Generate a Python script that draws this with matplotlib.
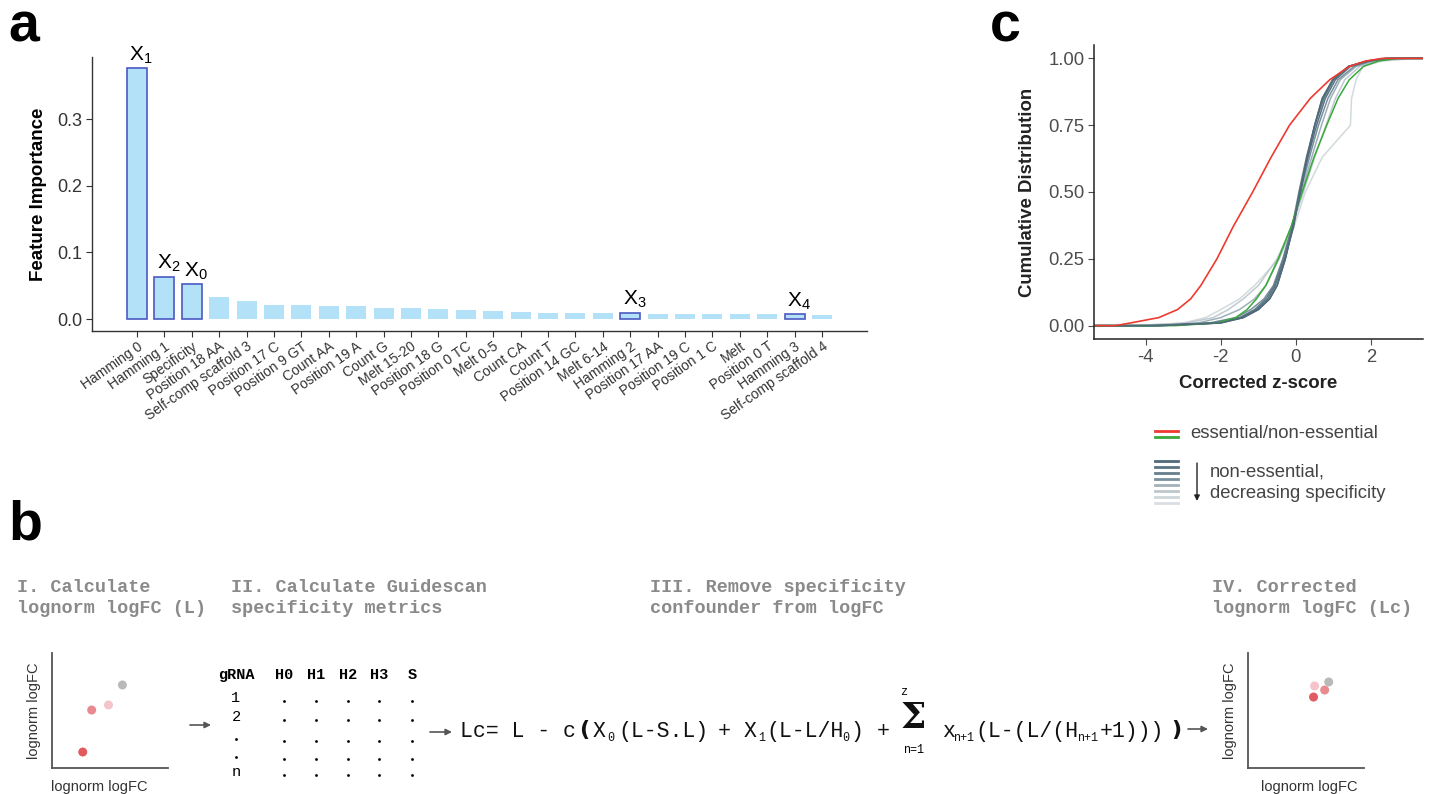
import numpy as np
import matplotlib.pyplot as plt

plt.rcParams['font.family'] = ['Liberation Sans', 'DejaVu Sans']
plt.rcParams['axes.unicode_minus'] = False
plt.rcParams['mathtext.fontset'] = 'custom'
plt.rcParams['mathtext.sf'] = 'Liberation Sans'
plt.rcParams['mathtext.rm'] = 'Liberation Sans'

# ---- panel a data ----
features = ['Hamming 0', 'Hamming 1', 'Specificity', 'Position 18 AA', 'Self-comp scaffold 3',
            'Position 17 C', 'Position 9 GT', 'Count AA', 'Position 19 A', 'Count G',
            'Melt 15-20', 'Position 18 G', 'Position 0 TC', 'Melt 0-5', 'Count CA', 'Count T',
            'Position 14 GC', 'Melt 6-14', 'Hamming 2', 'Position 17 AA', 'Position 19 C',
            'Position 1 C', 'Melt', 'Position 0 T', 'Hamming 3', 'Self-comp scaffold 4']
importance = [0.376, 0.063, 0.052, 0.033, 0.027, 0.021, 0.021, 0.020, 0.020, 0.016,
              0.016, 0.015, 0.013, 0.012, 0.011, 0.0095, 0.009, 0.009, 0.009, 0.008,
              0.0075, 0.0075, 0.0075, 0.007, 0.007, 0.006]
coef_names = {'Hamming 0': '1', 'Hamming 1': '2', 'Specificity': '0',
              'Hamming 2': '3', 'Hamming 3': '4'}

# ---- panel c data: curves given as x at shared cumulative levels ----
levels = [0.0, 0.0, 0.01, 0.03, 0.06, 0.10, 0.15, 0.25, 0.37, 0.50, 0.63, 0.75,
          0.85, 0.92, 0.97, 0.99, 1.0, 1.0]
essential_x = [-5.4, -4.8, -4.4, -3.65, -3.15, -2.8, -2.53, -2.1, -1.67, -1.15, -0.66, -0.17,
               0.38, 0.9, 1.42, 1.85, 2.3, 3.4]
nonessential_x = [-5.4, -3.2, -2.1, -1.6, -1.3, -1.05, -0.8, -0.47, -0.13, 0.17, 0.48, 0.82,
                  1.12, 1.42, 1.8, 2.2, 2.7, 3.4]
specificity_x = [
    [-5.4, -3.6, -2.0, -1.4, -1.0, -0.7, -0.5, -0.28, -0.08, 0.12, 0.3, 0.5, 0.7, 0.98, 1.4, 1.9, 2.4, 3.4],
    [-5.4, -3.7, -2.1, -1.45, -1.05, -0.75, -0.55, -0.3, -0.06, 0.1, 0.32, 0.55, 0.78, 1.05, 1.45, 1.95, 2.4, 3.4],
    [-5.4, -3.8, -2.2, -1.5, -1.1, -0.8, -0.58, -0.33, -0.1, 0.08, 0.28, 0.5, 0.74, 1.0, 1.4, 1.9, 2.5, 3.4],
    [-5.4, -3.9, -2.3, -1.6, -1.2, -0.85, -0.6, -0.35, -0.1, 0.12, 0.36, 0.6, 0.85, 1.12, 1.55, 2.0, 2.6, 3.4],
    [-5.4, -4.0, -2.6, -2.0, -1.5, -1.1, -0.8, -0.45, -0.12, 0.15, 0.42, 0.68, 0.92, 1.18, 1.6, 2.05, 2.8, 3.4],
    [-5.4, -4.2, -2.9, -2.2, -1.8, -1.4, -1.0, -0.5, -0.1, 0.2, 0.5, 0.8, 1.05, 1.3, 1.7, 2.15, 3.0, 3.4],
    [-5.4, -4.4, -3.0, -2.4, -2.0, -1.5, -1.1, -0.45, -0.05, 0.25, 0.7, 1.45, 1.48, 1.6, 1.78, 2.3, 3.2, 3.4],
]
spec_colors = ['#4f6a79', '#58717f', '#627b88', '#7890a0', '#9fb0ba', '#bfcbd1', '#d2dade']
legend_greys = ['#4f6a79', '#5a7482', '#667f8c', '#7a909c', '#a3b2ba', '#bcc7cd', '#cdd6da', '#d8dfe2']

# ---- panel b data ----
table_cols = ['gRNA', 'H0', 'H1', 'H2', 'H3', 'S']
table_rows = ['1', '2', '.', '.', 'n']
raw_x = [0.265, 0.342, 0.487, 0.607]
raw_y = [0.139, 0.504, 0.548, 0.722]
corr_x = [0.565, 0.661, 0.574, 0.696]
corr_y = [0.617, 0.678, 0.713, 0.748]
dot_colors = ['#e05a60', '#e88a8f', '#f5c4ca', '#b9b9b9']

W, H = 1431, 794
fig = plt.figure(figsize=(W / 100, H / 100), dpi=100)

# ======== panel a ========
ax_a = fig.add_axes([92 / W, 1 - 331 / H, 775 / W, 274 / H])
xs = np.arange(len(features))
fills = '#b3e1f7'
for i, (f, v) in enumerate(zip(features, importance)):
    if f in coef_names:
        ax_a.bar(i, v, width=0.73, color=fills, edgecolor='#4b59c2', linewidth=1.2)
        ax_a.annotate(r'$\mathsf{X}_{\mathsf{' + coef_names[f] + '}}$', (i, v),
                      xytext=(3, 2), textcoords='offset points', ha='center', va='bottom',
                      fontsize=15)
    else:
        ax_a.bar(i, v, width=0.73, color=fills, linewidth=0)
ax_a.set_xlim(-1.64, 26.64)
ax_a.set_ylim(-0.018, 0.393)
ax_a.set_yticks([0, 0.1, 0.2, 0.3])
ax_a.set_yticklabels(['0.0', '0.1', '0.2', '0.3'])
ax_a.set_xticks(xs)
ax_a.set_xticklabels(features, rotation=35, ha='right', rotation_mode='anchor', fontsize=10)
for s in ['top', 'right']:
    ax_a.spines[s].set_visible(False)
for s in ['left', 'bottom']:
    ax_a.spines[s].set_color('#333333')
    ax_a.spines[s].set_linewidth(1.0)
ax_a.tick_params(axis='y', labelsize=13, colors='#333333', length=4, pad=3)
ax_a.tick_params(axis='x', colors='#333333', length=4, pad=2)
ax_a.set_ylabel('Feature Importance', fontsize=13.5, fontweight='bold', labelpad=7)

# ======== panel c ========
ax_c = fig.add_axes([1094 / W, 1 - 339 / H, 329 / W, 294 / H])
for xv, c in list(zip(specificity_x, spec_colors))[::-1]:
    ax_c.plot(xv, levels, color=c, lw=1.1)
ax_c.plot(nonessential_x, levels, color='#3aa93a', lw=1.1)
ax_c.plot(specificity_x[0], levels, color=spec_colors[0], lw=1.1)
ax_c.plot(essential_x, levels, color='#ee3a31', lw=1.2)
ax_c.set_xlim(-5.37, 3.38)
ax_c.set_ylim(-0.05, 1.05)
ax_c.set_yticks([0, 0.25, 0.5, 0.75, 1.0])
ax_c.set_yticklabels(['0.00', '0.25', '0.50', '0.75', '1.00'])
ax_c.set_xticks([-4, -2, 0, 2])
for s in ['top', 'right']:
    ax_c.spines[s].set_visible(False)
for s in ['left', 'bottom']:
    ax_c.spines[s].set_color('#222222')
    ax_c.spines[s].set_linewidth(1.1)
ax_c.tick_params(labelsize=13.3, colors='#4d4d4d', length=4, pad=3)
ax_c.set_ylabel('Cumulative Distribution', fontsize=13.4, fontweight='bold',
                color='#222222', labelpad=9)
ax_c.set_xlabel('Corrected z-score', fontsize=13.4, fontweight='bold', color='#222222',
                labelpad=7)

# ======== mini scatter plots (panel b) ========
for left, px, py, lx in [(52, raw_x, raw_y, 0.41), (1248, corr_x, corr_y, 0.53)]:
    ax_m = fig.add_axes([left / W, 1 - 768 / H, 116 / W, 115 / H])
    ax_m.scatter(px, py, s=42, c=dot_colors, linewidths=0, zorder=3)
    ax_m.set_xlim(0, 1)
    ax_m.set_ylim(0, 1)
    ax_m.set_xticks([])
    ax_m.set_yticks([])
    for s in ['top', 'right']:
        ax_m.spines[s].set_visible(False)
    for s in ['left', 'bottom']:
        ax_m.spines[s].set_color('#555555')
        ax_m.spines[s].set_linewidth(1.3)
    ax_m.set_xlabel('lognorm logFC', fontsize=10.5, color='#333333')
    ax_m.xaxis.set_label_coords(lx, -0.1, transform=ax_m.transAxes)
    ax_m.xaxis.label.set_va('top')
    ax_m.set_ylabel('lognorm logFC', fontsize=10.5, color='#333333', labelpad=8)

# ======== overlay in pixel coordinates ========
ax_o = fig.add_axes([0, 0, 1, 1])
ax_o.set_xlim(0, W)
ax_o.set_ylim(H, 0)
ax_o.axis('off')
ax_o.patch.set_alpha(0)

for letter, x, y in [('a', 8, 28), ('b', 8, 525), ('c', 990, 28)]:
    ax_o.text(x, y, letter, fontsize=40, fontweight='bold', va='center', ha='left')

mono = 'Liberation Mono'
head_kw = dict(fontfamily=mono, fontweight='bold', color='#8a8a8a', fontsize=13.3,
               va='center', ha='left', linespacing=1.25)
ax_o.text(17, 598, 'I. Calculate\nlognorm logFC (L)', **head_kw)
ax_o.text(231, 598, 'II. Calculate Guidescan\nspecificity metrics', **head_kw)
ax_o.text(650, 598, 'III. Remove specificity\nconfounder from logFC', **head_kw)
ax_o.text(1212, 598, 'IV. Corrected\nlognorm logFC (Lc)', **head_kw)

# table of specificity metrics
col_x = [236, 284, 316, 348, 379, 412]
row_y = [698, 717, 738, 756, 772]
for cx, name in zip(col_x, table_cols):
    ax_o.text(cx, 675, name, fontfamily=mono, fontweight='bold', fontsize=11,
              ha='center', va='center')
for ry, r in zip(row_y, table_rows):
    if r == '.':
        ax_o.scatter([col_x[0]], [ry + 1], s=4, c='k', linewidths=0)
    else:
        ax_o.text(col_x[0], ry, r, fontfamily=mono, fontsize=11, ha='center', va='center')
    ax_o.scatter(col_x[1:], [ry + 3] * 5, s=4, c='k', linewidths=0)

arrow_kw = dict(arrowstyle='-|>', color='#555555', lw=1.2, mutation_scale=9,
                shrinkA=0, shrinkB=0)
for x0, x1, y in [(190, 211, 725), (430, 452, 732), (1188, 1208, 729)]:
    ax_o.annotate('', xy=(x1, y), xytext=(x0, y), arrowprops=arrow_kw)

# correction formula, laid out in chunks of monospaced text
base = 737
formula = [(460, 'Lc= L - c', 'n'), (584, '(', 'big'),
           (593, 'X', 'n'), (607, '0', 's'), (618, '(L-S.L)', 'n'), (718, '+', 'n'),
           (744, 'X', 'n'), (758, '1', 's'), (766, '(L-L/H', 'n'), (842, '0', 's'),
           (850, ')', 'n'), (877, '+', 'n'),
           (942, 'x', 'n'), (953, 'n+1', 's'), (975, '(L-(L/(H', 'n'), (1077, 'n+1', 's'),
           (1100, '+1)))', 'n'), (1176, ')', 'big')]
for fx, s, kind in formula:
    if kind == 'n':
        ax_o.text(fx, base, s, fontfamily=mono, fontsize=15.5, ha='left', va='baseline',
                  color='#111111')
    elif kind == 's':
        ax_o.text(fx, base + 4, s, fontfamily=mono, fontsize=8.5, ha='left', va='baseline',
                  color='#111111')
    else:
        ax_o.text(fx, 730, s, fontfamily='DejaVu Sans', fontweight='bold', fontsize=16,
                  ha='center', va='center', color='#111111')
ax_o.text(913, 728, 'Σ', fontfamily='DejaVu Serif', fontweight='bold', fontsize=26,
          ha='center', va='baseline', color='#111111')
ax_o.text(904, 692, 'z', fontfamily=mono, fontsize=8.5, ha='center', va='center')
ax_o.text(914, 750, 'n=1', fontfamily=mono, fontsize=8.5, ha='center', va='center')

# legend of panel c
ax_o.plot([1155, 1178], [431, 431], color='#ee3a31', lw=2)
ax_o.plot([1155, 1178], [437, 437], color='#3aa93a', lw=2)
ax_o.text(1190, 433, 'essential/non-essential', fontsize=13.3, color='#444444',
          va='center', ha='left')
for k, c in enumerate(legend_greys):
    yy = 461 + k * 6
    ax_o.plot([1155, 1178], [yy, yy], color=c, lw=2)
ax_o.annotate('', xy=(1197, 501), xytext=(1197, 463),
              arrowprops=dict(arrowstyle='-|>', color='#222222', lw=1, mutation_scale=8,
                              shrinkA=0, shrinkB=0))
ax_o.text(1210, 472, 'non-essential,', fontsize=13.3, color='#444444', va='center', ha='left')
ax_o.text(1210, 493, 'decreasing specificity', fontsize=13.3, color='#444444',
          va='center', ha='left')

fig.savefig('out.png', dpi=100)
